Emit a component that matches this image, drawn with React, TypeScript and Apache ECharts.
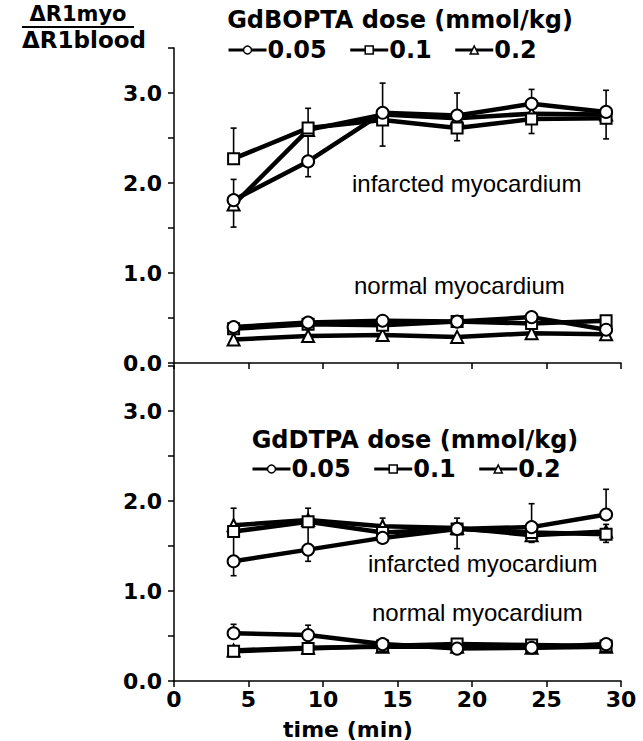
import React, { useEffect, useRef } from "react";
import * as echarts from "echarts";

// ---- data ----
const TIME = [4, 9, 14, 19, 24, 29];

const DOSES = ["0.05", "0.1", "0.2"];

// GdBOPTA panel (top)
const BOPTA_INF_005 = [1.81, 2.24, 2.78, 2.75, 2.88, 2.79];
const BOPTA_INF_01 = [2.27, 2.61, 2.7, 2.61, 2.71, 2.72];
const BOPTA_INF_02 = [1.76, 2.59, 2.76, 2.72, 2.77, 2.76];
const BOPTA_NOR_005 = [0.4, 0.45, 0.47, 0.46, 0.51, 0.37];
const BOPTA_NOR_01 = [0.38, 0.43, 0.42, 0.46, 0.44, 0.47];
const BOPTA_NOR_02 = [0.26, 0.3, 0.31, 0.29, 0.33, 0.32];

// GdDTPA panel (bottom)
const DTPA_INF_005 = [1.33, 1.46, 1.59, 1.69, 1.71, 1.85];
const DTPA_INF_01 = [1.66, 1.77, 1.65, 1.69, 1.65, 1.63];
const DTPA_INF_02 = [1.73, 1.79, 1.72, 1.7, 1.62, 1.66];
const DTPA_NOR_005 = [0.53, 0.51, 0.41, 0.36, 0.37, 0.41];
const DTPA_NOR_01 = [0.33, 0.36, 0.39, 0.41, 0.4, 0.39];
const DTPA_NOR_02 = [0.34, 0.37, 0.38, 0.38, 0.37, 0.38];

// error bars: [time, low, high]
const BOPTA_ERR = [
  [4, 1.51, 2.04],
  [4, 2.27, 2.61],
  [9, 2.07, 2.83],
  [14, 2.41, 3.11],
  [19, 2.47, 3.0],
  [24, 2.55, 3.04],
  [29, 2.49, 3.03],
];
const DTPA_ERR = [
  [4, 1.17, 1.92],
  [9, 1.33, 1.92],
  [14, 1.55, 1.81],
  [19, 1.47, 1.81],
  [24, 1.54, 1.97],
  [29, 1.85, 2.13],
  [29, 1.54, 1.74],
  [4, 0.53, 0.63],
  [9, 0.51, 0.62],
];

const X_TICKS = [0, 5, 10, 15, 20, 25, 30];
const Y_TICKS = [0, 1, 2, 3];

const BOLD = "DejaVu Sans";
const REG = "Liberation Sans";

export default function App() {
  const ref = useRef<HTMLDivElement>(null);

  useEffect(() => {
    document.body.style.margin = "0";
    const chart = echarts.init(ref.current!, null, { renderer: "svg" });

    const symbols: Record<string, string> = {
      "0.05": "circle",
      "0.1": "rect",
      "0.2": "triangle",
    };
    const sizes: Record<string, number> = { "0.05": 12, "0.1": 11, "0.2": 12 };

    const mk = (name: string, dose: string, vals: number[], panel: number) => ({
      type: "line",
      name,
      xAxisIndex: panel,
      yAxisIndex: panel,
      data: TIME.map((t, i) => [t, vals[i]]),
      symbol: symbols[dose],
      symbolSize: sizes[dose],
      showSymbol: true,
      lineStyle: { color: "#000", width: 4.5 },
      itemStyle: { color: "#fff", borderColor: "#000", borderWidth: 2 },
      z: 3,
      emphasis: { disabled: true },
    });

    const errSeries = (data: number[][], panel: number) => ({
      type: "custom",
      xAxisIndex: panel,
      yAxisIndex: panel,
      data,
      encode: { x: 0, y: [1, 2] },
      z: 1,
      renderItem: (params: any, api: any) => {
        const x = api.value(0);
        const lo = api.coord([x, api.value(1)]);
        const hi = api.coord([x, api.value(2)]);
        const st = { stroke: "#000", lineWidth: 1.6 };
        return {
          type: "group",
          children: [
            { type: "line", shape: { x1: lo[0], y1: lo[1], x2: hi[0], y2: hi[1] }, style: st },
            { type: "line", shape: { x1: hi[0] - 3, y1: hi[1], x2: hi[0] + 3, y2: hi[1] }, style: st },
            { type: "line", shape: { x1: lo[0] - 3, y1: lo[1], x2: lo[0] + 3, y2: lo[1] }, style: st },
          ],
        };
      },
    });

    const topNames = DOSES;
    const botNames = DOSES.map((d) => "B" + d);

    const series: any[] = [
      errSeries(BOPTA_ERR, 0),
      errSeries(DTPA_ERR, 1),
      mk(topNames[2], "0.2", BOPTA_INF_02, 0),
      mk(topNames[1], "0.1", BOPTA_INF_01, 0),
      mk(topNames[0], "0.05", BOPTA_INF_005, 0),
      mk(topNames[2], "0.2", BOPTA_NOR_02, 0),
      mk(topNames[1], "0.1", BOPTA_NOR_01, 0),
      mk(topNames[0], "0.05", BOPTA_NOR_005, 0),
      mk(botNames[2], "0.2", DTPA_INF_02, 1),
      mk(botNames[1], "0.1", DTPA_INF_01, 1),
      mk(botNames[0], "0.05", DTPA_INF_005, 1),
      mk(botNames[2], "0.2", DTPA_NOR_02, 1),
      mk(botNames[1], "0.1", DTPA_NOR_01, 1),
      mk(botNames[0], "0.05", DTPA_NOR_005, 1),
    ];

    const axisLine = { show: true, onZero: false, lineStyle: { color: "#000", width: 1.5 } };
    const tickLabel = {
      color: "#000",
      fontFamily: BOLD,
      fontWeight: "bold" as const,
      fontSize: 22,
    };

    const xAxis = (idx: number, showLabels: boolean) => ({
      type: "value",
      gridIndex: idx,
      min: X_TICKS[0],
      max: X_TICKS[X_TICKS.length - 1],
      interval: 5,
      axisLine,
      axisTick: { show: true, inside: false, length: 6, lineStyle: { color: "#000", width: 1.5 } },
      axisLabel: { show: showLabels, margin: 7, ...tickLabel, formatter: (v: number) => String(v) },
      splitLine: { show: false },
    });

    const yAxis = (idx: number) => ({
      type: "value",
      gridIndex: idx,
      min: 0,
      max: 3.5,
      interval: 0.5,
      axisLine,
      axisTick: { show: true, inside: false, length: 6, lineStyle: { color: "#000", width: 1.5 } },
      axisLabel: {
        ...tickLabel,
        margin: 12,
        formatter: (v: number) => (Y_TICKS.indexOf(v) >= 0 ? v.toFixed(1) : ""),
      },
      splitLine: { show: false },
    });

    const legendBase = {
      orient: "horizontal",
      itemWidth: 38,
      itemHeight: 10,
      itemGap: 22,
      selectedMode: false,
      lineStyle: { width: 3, color: "#000" },
      itemStyle: { color: "#fff", borderColor: "#000", borderWidth: 1.5 },
      textStyle: { color: "#000", fontFamily: BOLD, fontWeight: "bold", fontSize: 24, padding: [0, 0, 0, -4] },
      formatter: (n: string) => n.replace(/^B/, ""),
    };

    const text = (x: number, y: number, s: string, bold: boolean, size: number, align = "left") => ({
      type: "text",
      x,
      y,
      style: {
        text: s,
        fill: "#000",
        font: `${bold ? "bold " : ""}${size}px "${bold ? BOLD : REG}"`,
        textAlign: align,
        textVerticalAlign: "middle",
      },
      z: 10,
    });

    chart.setOption({
      animation: false,
      backgroundColor: "#fff",
      grid: [
        { left: 174, top: 48, width: 447, height: 315 },
        { left: 174, top: 366, width: 447, height: 315 },
      ],
      xAxis: [xAxis(0, false), xAxis(1, true)],
      yAxis: [yAxis(0), yAxis(1)],
      legend: [
        { ...legendBase, data: topNames, left: 222, top: 33 },
        { ...legendBase, data: botNames, left: 246, top: 452 },
      ],
      series,
      graphic: [
        text(78, 14, "ΔR1myo", true, 21, "center"),
        { type: "line", shape: { x1: 22, y1: 27, x2: 134, y2: 27 }, style: { stroke: "#000", lineWidth: 2 } },
        text(84, 40, "ΔR1blood", true, 23, "center"),
        text(400, 20, "GdBOPTA dose (mmol/kg)", true, 24, "center"),
        text(415, 440, "GdDTPA dose (mmol/kg)", true, 24, "center"),
        text(352, 183, "infarcted myocardium", false, 24),
        text(354, 285, "normal myocardium", false, 24),
        text(368, 563, "infarcted myocardium", false, 24),
        text(372, 612, "normal myocardium", false, 24),
        text(348, 729, "time (min)", true, 22, "center"),
      ],
    });

    return () => chart.dispose();
  }, []);

  return <div ref={ref} style={{ width: 643, height: 741 }} />;
}
